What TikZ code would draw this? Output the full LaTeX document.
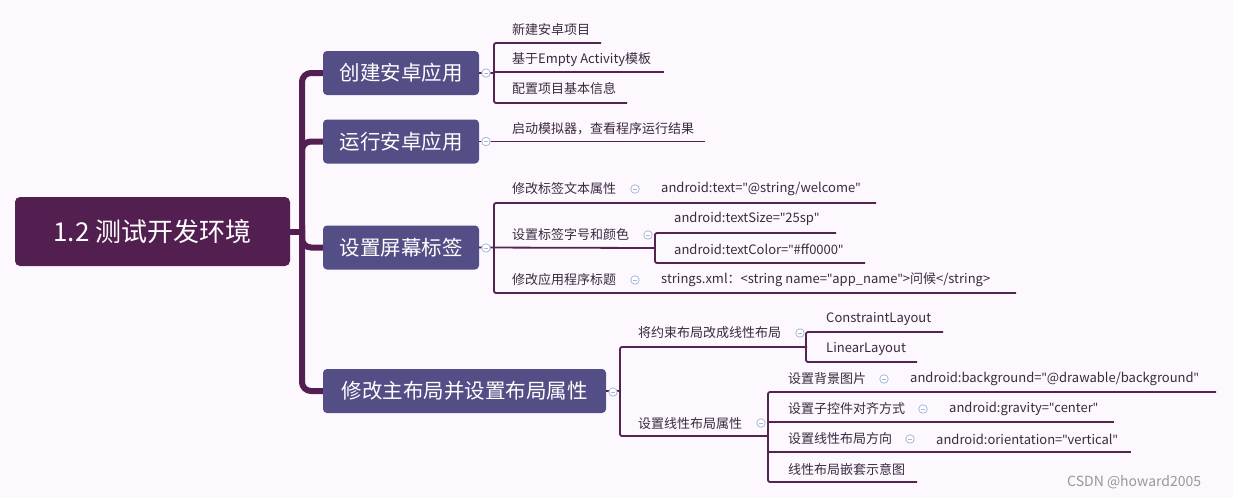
\documentclass[tikz,border=0pt]{standalone}
\usepackage{fontspec}
\setmainfont{Noto Sans CJK SC}
\newfontfamily\lat{Noto Sans}
\newcommand{\q}{{\lat\symbol{34}}}
\begin{document}
\begin{tikzpicture}[x=1pt,y=-1pt,
  ln/.style={draw=lnc,line width=1.8pt},
  spine/.style={draw=rootc,line width=6pt},
  txt/.style={anchor=west,inner sep=0pt,text=txtc,font=\fontsize{13}{15}\selectfont},
  mainbox/.style={fill=boxc,rounded corners=4pt,text=white,font=\fontsize{20.5}{23}\selectfont,inner sep=0pt,minimum height=44pt},
  tog/.style={circle,draw=togc,fill=white,line width=0.8pt,minimum size=8.5pt,inner sep=0pt,
     path picture={\draw[togc,line width=0.8pt] ([xshift=-2.2pt]path picture bounding box.center)--([xshift=2.2pt]path picture bounding box.center);}}]
\definecolor{bg}{HTML}{FDF8FD}
\definecolor{rootc}{HTML}{521F50}
\definecolor{boxc}{HTML}{534E85}
\definecolor{lnc}{HTML}{53244F}
\definecolor{txtc}{HTML}{3A2A40}
\definecolor{togc}{HTML}{A9B7D8}
\fill[bg] (0,0) rectangle (1233,498);
\useasboundingbox (0,0) rectangle (1233,498);
% root
\node[fill=rootc,rounded corners=5pt,minimum width=275pt,minimum height=69pt,inner sep=0pt,text=white,font=\fontsize{26}{29}\selectfont] (root) at (152.5,231.5) {1.2 测试开发环境};
% main boxes
\node[mainbox,minimum width=156pt] (b1) at (401,73) {创建安卓应用};
\node[mainbox,minimum width=156pt] (b2) at (401,141.5) {运行安卓应用};
\node[mainbox,minimum width=156pt] (b3) at (401,247.5) {设置屏幕标签};
\node[mainbox,minimum width=283pt] (b4) at (464.5,391) {修改主布局并设置布局属性};
% spine
\draw[spine] (root.east) -- (302,231.5);
\draw[spine,rounded corners=9pt] (b1.west) -| (302,240);
\draw[spine,rounded corners=9pt] (b4.west) -| (302,225);
\draw[spine,rounded corners=9pt] (b2.west) -| (302,160);
\draw[spine,rounded corners=9pt] (b3.west) -| (302,230);
% branch 1
\coordinate (j1) at (494,73);
\draw[ln] (b1.east) -- (j1);
\draw[ln,rounded corners=2pt] (601,43) -- (494,43) -- (494,103) -- (627,103);
\draw[ln] (494,72) -- (664,72);
\node[txt] (c11) at (512,30) {新建安卓项目};
\node[txt] (c12) at (512,60) {基于Empty Activity模板};
\node[txt] (c13) at (512,89) {配置项目基本信息};
\node[tog] (t1) at (486,73) {};
% branch 2
\draw[ln] (b2.east) -- (705,141.5);
\node[txt] (c21) at (512,129) {启动模拟器，查看程序运行结果};
\node[tog] (t2) at (486,141.5) {};
% branch 3
\draw[ln] (b3.east) -- (655,248);
\draw[ln,rounded corners=2pt] (876,203) -- (494,203) -- (494,293) -- (1016,293);
\draw[ln,rounded corners=2pt] (836,233) -- (655,233) -- (655,263) -- (865,263);
\node[txt] (c31) at (512,189) {修改标签文本属性};
\node[tog] at (635,189) {};
\node[txt] at (661,189) {android:text=\q@string/welcome\q};
\node[txt] (c32) at (512,235) {设置标签字号和颜色};
\node[tog] at (648,235) {};
\node[txt] at (674,219) {android:textSize=\q25sp\q};
\node[txt] at (674,249) {android:textColor=\q\#ff0000\q};
\node[txt] (c33) at (512,280) {修改应用程序标题};
\node[tog] at (635,280) {};
\node[txt] at (661,280) {strings.xml：<string name=\q app\_name\q>问候</string>};
\node[tog] (t3) at (486,248) {};
% branch 4
\draw[ln] (b4.east) -- (620,391);
\draw[ln,rounded corners=2pt] (807,347) -- (620,347) -- (620,436) -- (768,436);
\draw[ln,rounded corners=2pt] (943,332) -- (806,332) -- (806,362) -- (917,362);
\draw[ln,rounded corners=2pt] (1216,392) -- (768,392) -- (768,482) -- (917,482);
\draw[ln] (768,422) -- (1114,422);
\draw[ln] (768,452) -- (1131,452);
\node[txt] at (638,333) {将约束布局改成线性布局};
\node[tog] at (800,333) {};
\node[txt] at (826,319) {ConstraintLayout};
\node[txt] at (826,349) {LinearLayout};
\node[txt] at (638,424) {设置线性布局属性};
\node[tog] at (761,423) {};
\node[txt] at (788,379) {设置背景图片};
\node[tog] at (884,379) {};
\node[txt] at (910,379) {android:background=\q@drawable/background\q};
\node[txt] at (788,409) {设置子控件对齐方式};
\node[tog] at (923,409) {};
\node[txt] at (949,409) {android:gravity=\q center\q};
\node[txt] at (788,439) {设置线性布局方向};
\node[tog] at (910,439) {};
\node[txt] at (936,439) {android:orientation=\q vertical\q};
\node[txt] at (788,469) {线性布局嵌套示意图};
\node[tog] (t4) at (613,392) {};
\node[anchor=west,inner sep=0pt,text=gray!80,font=\fontsize{14}{16}\selectfont] (wm) at (1067,482) {CSDN @howard2005};
\end{tikzpicture}
\end{document}
